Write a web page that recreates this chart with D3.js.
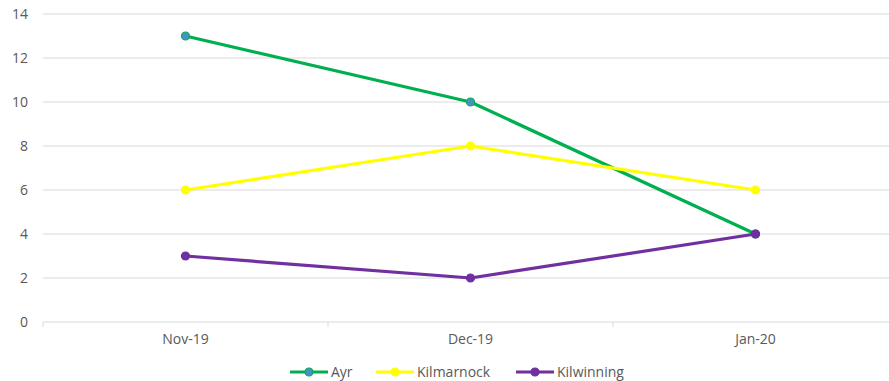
<!DOCTYPE html>
<html>
<head>
<meta charset="utf-8">
<script src="https://cdn.jsdelivr.net/npm/d3@7"></script>
<style>
  html, body { margin: 0; padding: 0; background: #fff; }
  svg { display: block; font-family: "Open Sans", "Liberation Sans", sans-serif; }
</style>
</head>
<body>
<svg id="chart" width="889" height="381"></svg>
<script>
// Monthly counts by town
const months = ["Nov-19", "Dec-19", "Jan-20"];
const ayr = [13, 10, 4];
const kilmarnock = [6, 8, 6];
const kilwinning = [3, 2, 4];
const yTicks = [0, 2, 4, 6, 8, 10, 12, 14];

const series = [
  { name: "Ayr", values: ayr, stroke: "#00b050", fill: "#4a8fc8" },
  { name: "Kilmarnock", values: kilmarnock, stroke: "#ffff00", fill: "#ffff00" },
  { name: "Kilwinning", values: kilwinning, stroke: "#7030a0", fill: "#7030a0" }
];

const svg = d3.select("#chart");
const plotLeft = 43, plotRight = 898, plotTop = 14, plotBottom = 322;
const labelColor = "#595959";
const fontSize = 14;

const x = d3.scaleBand().domain(months).range([plotLeft, plotRight]);
const y = d3.scaleLinear().domain([0, 14]).range([plotBottom, plotTop]);

// Horizontal gridlines
svg.append("g")
  .selectAll("line")
  .data(yTicks.filter(d => d > 0))
  .join("line")
  .attr("x1", plotLeft).attr("x2", 889)
  .attr("y1", d => y(d)).attr("y2", d => y(d))
  .attr("stroke", "#d9d9d9").attr("stroke-width", 1);

// Y axis labels
const yAxis = d3.axisLeft(y).tickValues(yTicks).tickSize(0).tickPadding(15);
svg.append("g")
  .attr("transform", `translate(${plotLeft},0)`)
  .call(yAxis)
  .call(g => g.select(".domain").remove())
  .call(g => g.selectAll("text")
    .attr("fill", labelColor)
    .attr("font-size", fontSize)
    .attr("font-family", "'Open Sans', sans-serif"));

// X axis with category boundary ticks
const xg = svg.append("g").attr("transform", `translate(0,${plotBottom})`);
xg.append("line")
  .attr("x1", plotLeft).attr("x2", 889)
  .attr("stroke", "#d9d9d9").attr("stroke-width", 1);
xg.selectAll("line.tick")
  .data(months)
  .join("line")
  .attr("class", "tick")
  .attr("x1", d => x(d)).attr("x2", d => x(d))
  .attr("y1", 0).attr("y2", 5)
  .attr("stroke", "#d9d9d9");
xg.selectAll("text")
  .data(months)
  .join("text")
  .attr("x", d => x(d) + x.bandwidth() / 2)
  .attr("y", 22)
  .attr("text-anchor", "middle")
  .attr("fill", labelColor)
  .attr("font-size", fontSize)
  .text(d => d);

// Lines and markers
const line = d3.line()
  .x((d, i) => x(months[i]) + x.bandwidth() / 2)
  .y(d => y(d));

series.forEach(s => {
  const g = svg.append("g");
  g.append("path")
    .datum(s.values)
    .attr("d", line)
    .attr("fill", "none")
    .attr("stroke", s.stroke)
    .attr("stroke-width", 3.2)
    .attr("stroke-linejoin", "round");
  g.selectAll("circle")
    .data(s.values)
    .join("circle")
    .attr("cx", (d, i) => x(months[i]) + x.bandwidth() / 2)
    .attr("cy", d => y(d))
    .attr("r", 4)
    .attr("fill", s.fill)
    .attr("stroke", s.stroke)
    .attr("stroke-width", 1.2);
});

// Legend
const legendX = [290, 376, 516];
const legendY = 372;
const lg = svg.append("g");
series.forEach((s, i) => {
  const gx = legendX[i];
  lg.append("line")
    .attr("x1", gx).attr("x2", gx + 38)
    .attr("y1", legendY).attr("y2", legendY)
    .attr("stroke", s.stroke).attr("stroke-width", 3.2);
  lg.append("circle")
    .attr("cx", gx + 19).attr("cy", legendY).attr("r", 4)
    .attr("fill", s.fill).attr("stroke", s.stroke).attr("stroke-width", 1.2);
  lg.append("text")
    .attr("x", gx + 41).attr("y", legendY + 5)
    .attr("fill", labelColor).attr("font-size", fontSize)
    .text(s.name);
});
</script>
</body>
</html>
